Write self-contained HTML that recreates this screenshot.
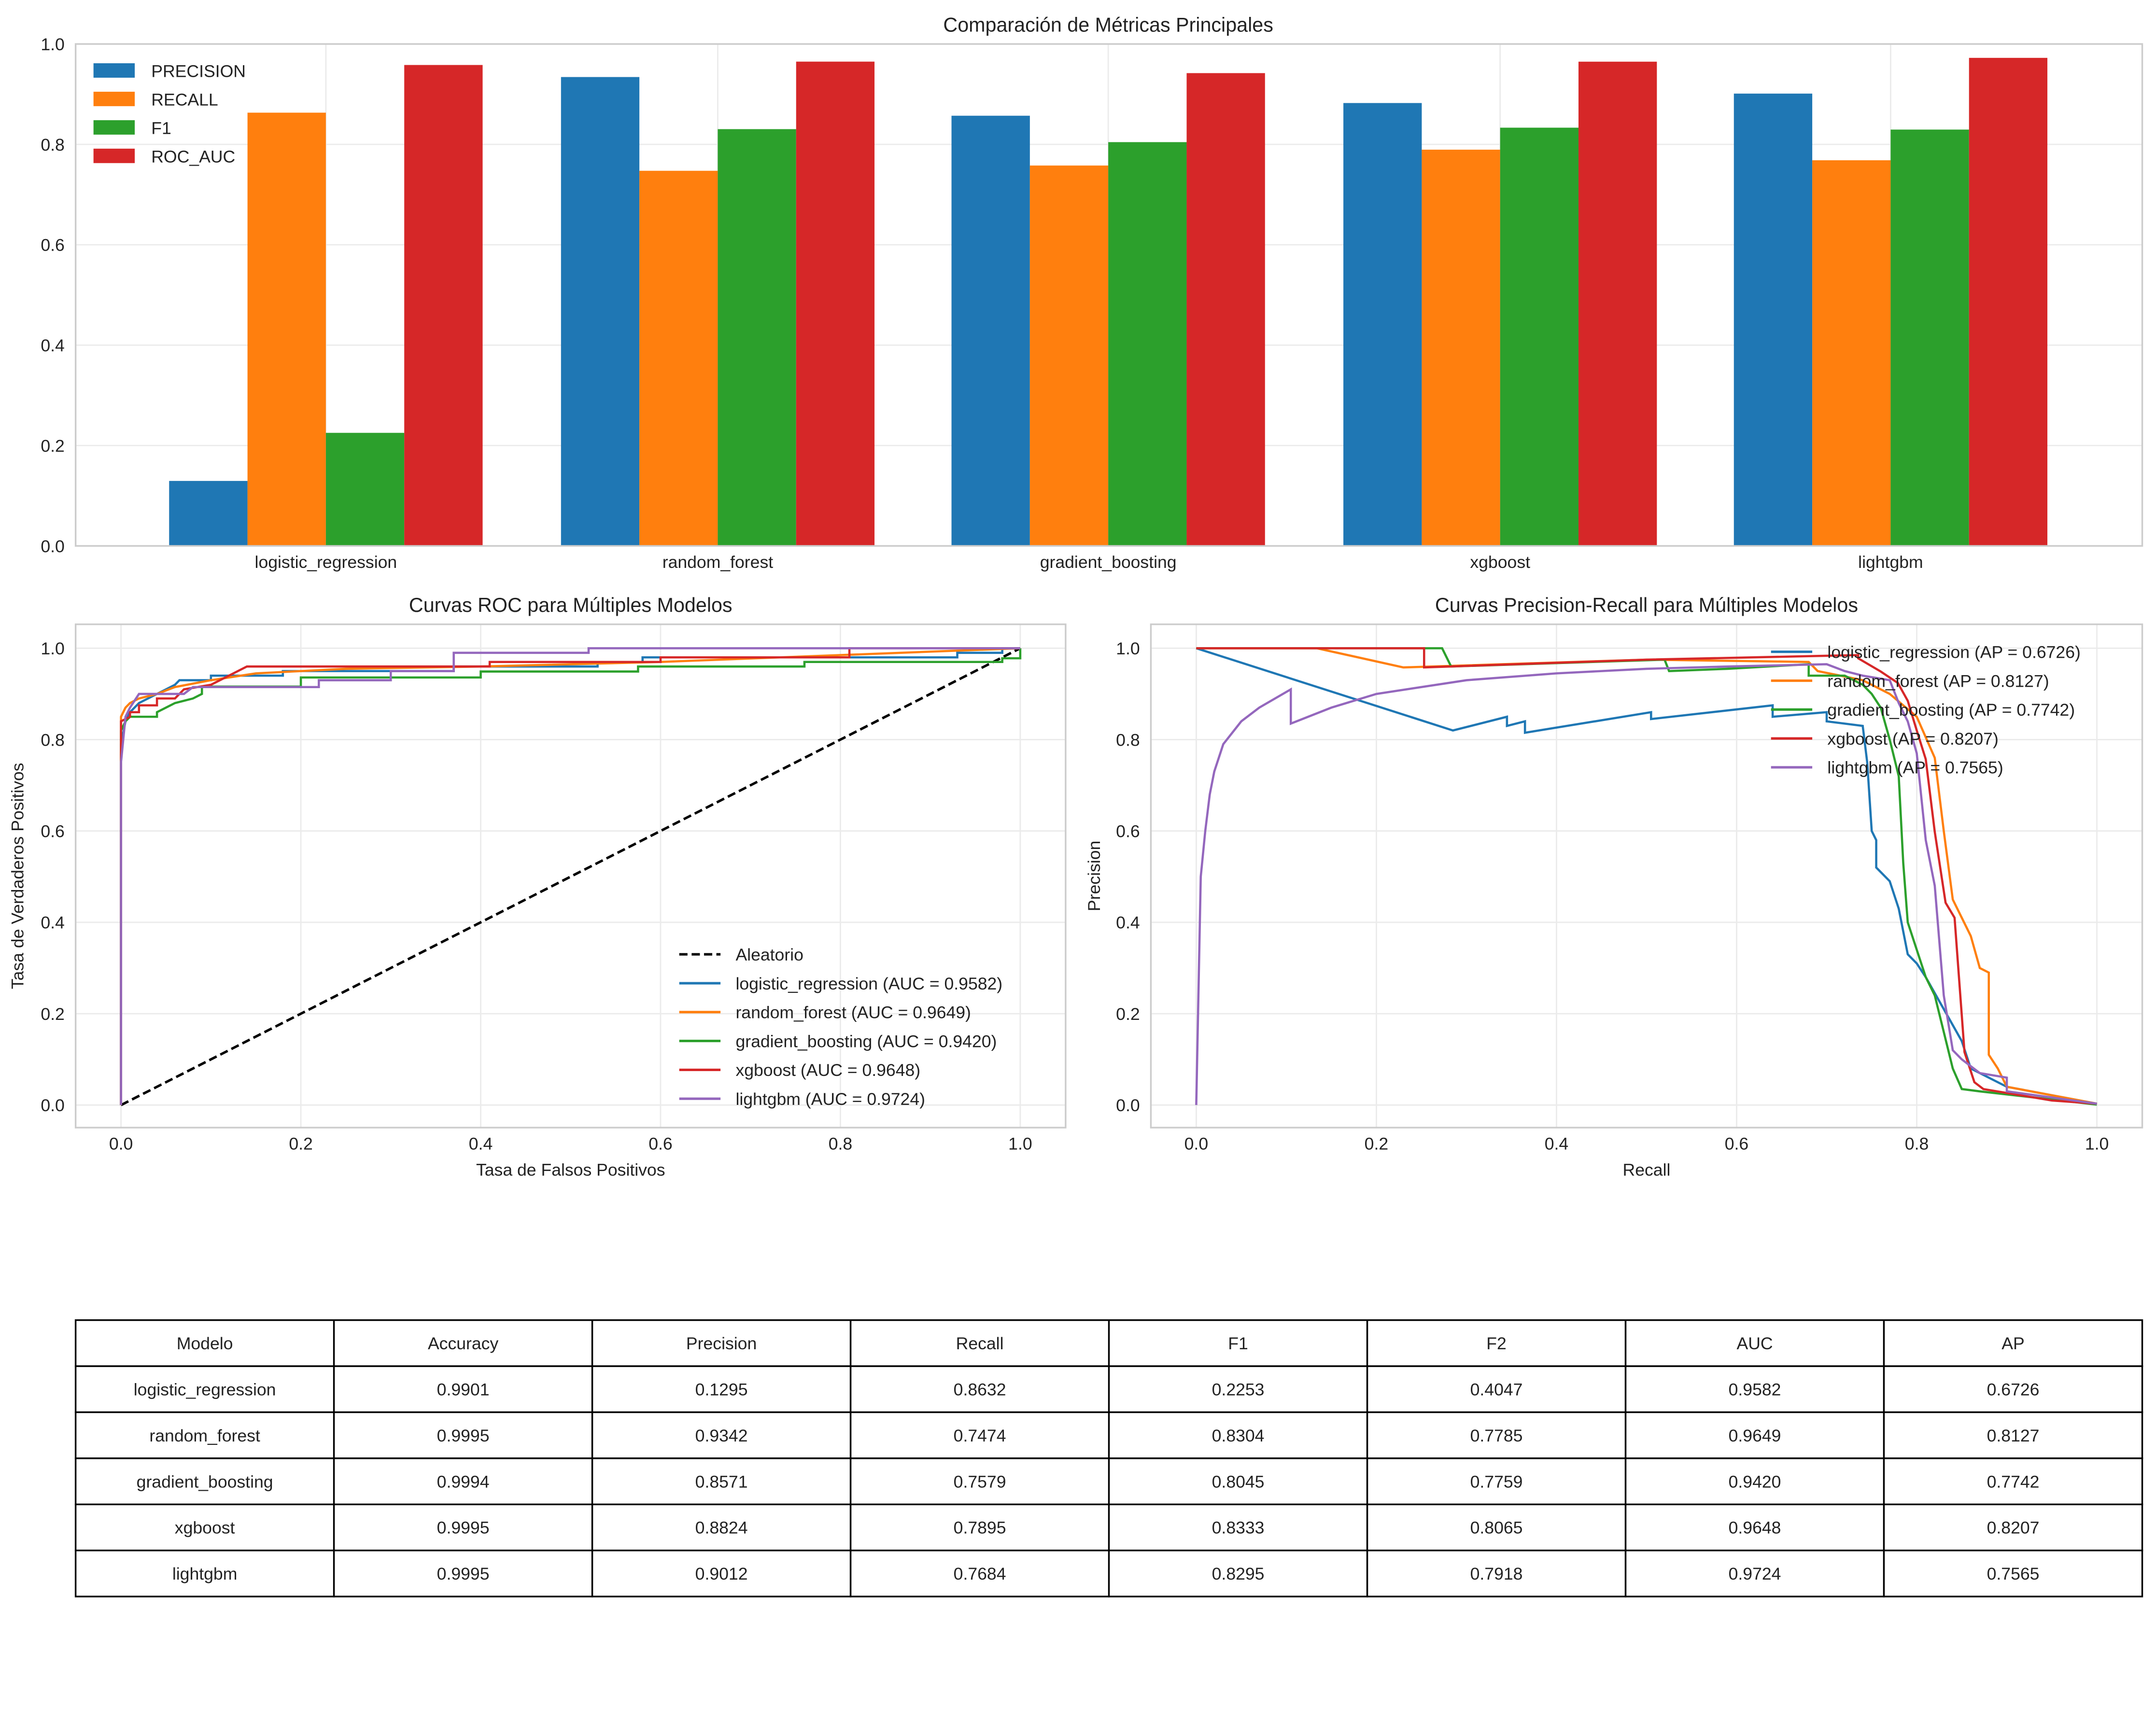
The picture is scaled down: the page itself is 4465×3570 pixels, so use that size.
<!DOCTYPE html>
<html><head><meta charset="utf-8"><style>
html,body{margin:0;padding:0;background:#fff}
svg{display:block;font-family:"Liberation Sans",Arial,sans-serif}
</style></head><body>
<svg id="fig" width="4465" height="3570" viewBox="0 0 1568 1253.7" preserveAspectRatio="none" xmlns="http://www.w3.org/2000/svg">
<rect width="1568" height="1253.7" fill="#fff"/>
<g id="bar"></g>
<g id="roc"></g>
<g id="pr"></g>
<g id="tbl"></g>
</svg>
<script>
const models=["logistic_regression","random_forest","gradient_boosting","xgboost","lightgbm"];
const metricNames=["PRECISION","RECALL","F1","ROC_AUC"];
const precisionVals=[0.1295,0.9342,0.8571,0.8824,0.9012];
const recallVals=[0.8632,0.7474,0.7579,0.7895,0.7684];
const f1Vals=[0.2253,0.8304,0.8045,0.8333,0.8295];
const aucVals=[0.9582,0.9649,0.9420,0.9648,0.9724];
const apVals=[0.6726,0.8127,0.7742,0.8207,0.7565];
const accVals=[0.9901,0.9995,0.9994,0.9995,0.9995];
const f2Vals=[0.4047,0.7785,0.7759,0.8065,0.7918];
const yTicks=[0,0.2,0.4,0.6,0.8,1.0];
const colors=["#1f77b4","#ff7f0e","#2ca02c","#d62728","#9467bd"];

const rocLR=[[0,0],[0,0.79],[0.005,0.84],[0.01,0.86],[0.02,0.88],[0.03,0.89],[0.05,0.91],[0.06,0.92],[0.065,0.93],[0.1,0.93],[0.1,0.94],[0.18,0.94],[0.18,0.95],[0.37,0.95],[0.37,0.96],[0.53,0.96],[0.53,0.97],[0.58,0.97],[0.58,0.98],[0.93,0.98],[0.93,0.99],[0.98,0.99],[0.98,1],[1,1]];
const rocRF=[[0,0],[0,0.85],[0.005,0.87],[0.01,0.88],[0.02,0.89],[0.04,0.9],[0.06,0.915],[0.1,0.93],[0.15,0.945],[0.25,0.955],[0.4,0.96],[0.6,0.97],[0.8,0.985],[1,1]];
const rocGB=[[0,0],[0,0.82],[0.005,0.84],[0.01,0.85],[0.04,0.85],[0.04,0.86],[0.05,0.87],[0.06,0.88],[0.08,0.89],[0.09,0.9],[0.09,0.916],[0.2,0.916],[0.2,0.936],[0.4,0.936],[0.4,0.949],[0.575,0.949],[0.575,0.96],[0.76,0.96],[0.76,0.97],[0.98,0.97],[0.98,0.978],[1,0.978],[1,1]];
const rocXG=[[0,0],[0,0.84],[0.01,0.85],[0.01,0.86],[0.02,0.86],[0.02,0.875],[0.04,0.875],[0.04,0.89],[0.06,0.89],[0.07,0.91],[0.1,0.92],[0.12,0.94],[0.14,0.96],[0.41,0.96],[0.41,0.97],[0.6,0.97],[0.6,0.98],[0.81,0.98],[0.81,1],[1,1]];
const rocLG=[[0,0],[0,0.75],[0.005,0.85],[0.01,0.87],[0.02,0.9],[0.07,0.9],[0.08,0.915],[0.22,0.915],[0.22,0.93],[0.3,0.93],[0.3,0.95],[0.37,0.95],[0.37,0.97],[0.37,0.99],[0.52,0.99],[0.52,1],[1,1]];
const prLR=[[0,1],[0.285,0.82],[0.345,0.85],[0.345,0.83],[0.365,0.84],[0.365,0.815],[0.505,0.86],[0.505,0.845],[0.64,0.875],[0.64,0.85],[0.7,0.86],[0.7,0.84],[0.74,0.83],[0.745,0.75],[0.75,0.6],[0.755,0.58],[0.755,0.52],[0.77,0.49],[0.78,0.43],[0.79,0.33],[0.8,0.31],[0.81,0.28],[0.83,0.21],[0.85,0.14],[0.86,0.08],[0.9,0.04],[1,0.003]];
const prRF=[[0,1],[0.134,1],[0.23,0.958],[0.5,0.975],[0.68,0.97],[0.69,0.95],[0.74,0.93],[0.77,0.9],[0.8,0.85],[0.82,0.76],[0.83,0.6],[0.84,0.45],[0.86,0.37],[0.87,0.3],[0.88,0.29],[0.88,0.11],[0.89,0.08],[0.9,0.04],[1,0.003]];
const prGB=[[0,1],[0.273,1],[0.283,0.96],[0.52,0.975],[0.525,0.95],[0.59,0.955],[0.68,0.965],[0.68,0.94],[0.72,0.94],[0.74,0.92],[0.75,0.9],[0.76,0.87],[0.77,0.8],[0.78,0.72],[0.785,0.53],[0.79,0.4],[0.8,0.34],[0.81,0.28],[0.82,0.24],[0.83,0.16],[0.84,0.08],[0.85,0.035],[0.87,0.03],[1,0.001]];
const prXG=[[0,1],[0.253,1],[0.253,0.958],[0.5,0.975],[0.735,0.985],[0.735,0.978],[0.76,0.949],[0.779,0.924],[0.79,0.885],[0.8,0.82],[0.81,0.757],[0.82,0.598],[0.832,0.443],[0.842,0.41],[0.853,0.116],[0.864,0.05],[0.874,0.035],[0.95,0.01],[1,0.003]];
const prLG=[[0,0],[0.005,0.5],[0.01,0.6],[0.015,0.68],[0.02,0.73],[0.03,0.79],[0.05,0.84],[0.07,0.87],[0.105,0.91],[0.105,0.835],[0.15,0.87],[0.2,0.9],[0.3,0.93],[0.4,0.945],[0.5,0.955],[0.59,0.96],[0.7,0.965],[0.72,0.95],[0.74,0.94],[0.77,0.93],[0.78,0.88],[0.79,0.84],[0.8,0.77],[0.81,0.58],[0.82,0.48],[0.83,0.24],[0.84,0.12],[0.85,0.1],[0.87,0.07],[0.9,0.06],[0.9,0.03],[1,0.003]];
const rocCurves=[rocLR,rocRF,rocGB,rocXG,rocLG];
const prCurves=[prLR,prRF,prGB,prXG,prLG];

const NS="http://www.w3.org/2000/svg";
function mk(parent,tag,attrs,text){const e=document.createElementNS(NS,tag);for(const k in attrs)e.setAttribute(k,attrs[k]);if(text!==undefined)e.textContent=text;parent.appendChild(e);return e;}

// ---- Bar chart ----
(function(){
 const g=document.getElementById('bar');
 const L=55,R=1558,T=32,B=397;
 const y=v=>B-(B-T)*v;
 const centers=[237,522,806,1091,1375];
 const bw=57;
 yTicks.forEach(t=>{mk(g,'line',{x1:L,x2:R,y1:y(t),y2:y(t),stroke:'#ebebeb','stroke-width':1});
  const tl=mk(g,'text',{x:L-8,y:y(t)+4.5,'text-anchor':'end','font-size':12.5,fill:'#222'},t.toFixed(1));
  });
 centers.forEach(c=>mk(g,'line',{x1:c,x2:c,y1:T,y2:B,stroke:'#ebebeb','stroke-width':1}));
 const series=[precisionVals,recallVals,f1Vals,aucVals];
 series.forEach((s,si)=>s.forEach((v,i)=>{
  const r=mk(g,'rect',{x:centers[i]-2*bw+si*bw,y:y(v),width:bw,height:B-y(v),fill:colors[si]});
  
  
 }));
 mk(g,'rect',{x:L,y:T,width:R-L,height:B-T,fill:'none',stroke:'#cccccc','stroke-width':1.2});
 models.forEach((m,i)=>{const t=mk(g,'text',{x:centers[i],y:B+16,'text-anchor':'middle','font-size':12.5,fill:'#222'},m);
  });
 const tt=mk(g,'text',{x:806,y:23,'text-anchor':'middle','font-size':14.5,fill:'#222'},'Comparación de Métricas Principales');
 
 metricNames.forEach((n,i)=>{const yy=51+i*20.7;
  const sw=mk(g,'rect',{x:68,y:yy-5,width:30,height:10.5,fill:colors[i]});
  
  const t=mk(g,'text',{x:110,y:yy+5,'font-size':12.5,fill:'#222'},n);
  });
})();

function lineChart(id,L,R,xl,xr,curves,title,xlabel,ylabel,ylx,labels,legX,legY,dashed){
 const g=document.getElementById(id);
 const T=454,B=820,y1=471.4,y0=803.6;
 const x=v=>xl+(xr-xl)*v, y=v=>y0-(y0-y1)*v;
 yTicks.forEach(t=>{mk(g,'line',{x1:L,x2:R,y1:y(t),y2:y(t),stroke:'#ebebeb','stroke-width':1});
  mk(g,'line',{x1:x(t),x2:x(t),y1:T,y2:B,stroke:'#ebebeb','stroke-width':1});
  const a=mk(g,'text',{x:L-8,y:y(t)+4.5,'text-anchor':'end','font-size':12.5,fill:'#222'},t.toFixed(1));
  
  const b=mk(g,'text',{x:x(t),y:B+16,'text-anchor':'middle','font-size':12.5,fill:'#222'},t.toFixed(1));
  });
 if(dashed){const d=mk(g,'line',{x1:x(0),y1:y(0),x2:x(1),y2:y(1),stroke:'#000','stroke-width':1.8,'stroke-dasharray':'6,3'});
  }
 curves.forEach((c,i)=>{const p=mk(g,'polyline',{points:c.map(q=>x(q[0])+','+y(q[1])).join(' '),fill:'none',stroke:colors[i],'stroke-width':1.6,'stroke-linejoin':'miter'});
  });
 mk(g,'rect',{x:L,y:T,width:R-L,height:B-T,fill:'none',stroke:'#cccccc','stroke-width':1.2});
 const tt=mk(g,'text',{x:(L+R)/2,y:445,'text-anchor':'middle','font-size':14.5,fill:'#222'},title);
 
 const xa=mk(g,'text',{x:(L+R)/2,y:855,'text-anchor':'middle','font-size':12.5,fill:'#222'},xlabel);
 
 const ya=mk(g,'text',{x:ylx,y:(T+B)/2,'text-anchor':'middle','font-size':12.5,fill:'#222',transform:'rotate(-90 '+ylx+' '+(T+B)/2+')'},ylabel);
 
 labels.forEach((lb,i)=>{const yy=legY+i*21;
  const ln=mk(g,'line',{x1:legX,x2:legX+30,y1:yy,y2:yy,stroke:lb[1],'stroke-width':1.8});
  if(lb[2])ln.setAttribute('stroke-dasharray','6,3');
  
  const t=mk(g,'text',{x:legX+41,y:yy+4.5,'font-size':12.5,fill:'#222'},lb[0]);
  });
}
const rocLabels=[["Aleatorio","#000",true]].concat(models.map((m,i)=>[m+" (AUC = "+aucVals[i].toFixed(4)+")",colors[i],false]));
lineChart('roc',55,775,88,742,rocCurves,'Curvas ROC para Múltiples Modelos','Tasa de Falsos Positivos','Tasa de Verdaderos Positivos',17,rocLabels,494,694,true);
const prLabels=models.map((m,i)=>[m+" (AP = "+apVals[i].toFixed(4)+")",colors[i],false]);
lineChart('pr',837,1558,870,1525,prCurves,'Curvas Precision-Recall para Múltiples Modelos','Recall','Precision',800,prLabels,1288,474,false);

// ---- Table ----
(function(){
 const g=document.getElementById('tbl');
 const L=55,R=1558,T=960,rh=33.5;
 const cw=(R-L)/8;
 const header=["Modelo","Accuracy","Precision","Recall","F1","F2","AUC","AP"];
 const rows=[header].concat(models.map((m,i)=>[m,accVals[i],precisionVals[i],recallVals[i],f1Vals[i],f2Vals[i],aucVals[i],apVals[i]].map((v,j)=>j===0?v:v.toFixed(4))));
 rows.forEach((r,ri)=>r.forEach((v,ci)=>{
  const c=mk(g,'rect',{x:L+ci*cw,y:T+ri*rh,width:cw,height:rh,fill:'#fff',stroke:'#000','stroke-width':1.2});
  
  const t=mk(g,'text',{x:L+ci*cw+cw/2,y:T+ri*rh+rh/2+4.5,'text-anchor':'middle','font-size':12.5,fill:'#222'},v);
  
 }));
})();
</script>
</body></html>
